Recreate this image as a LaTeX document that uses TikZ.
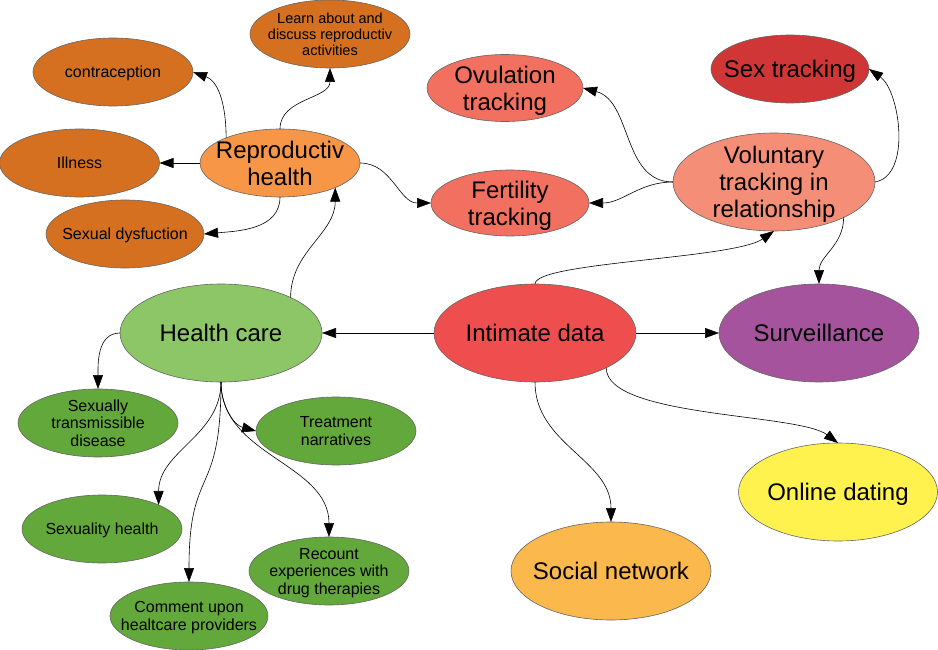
\documentclass[tikz,border=0pt]{standalone}
\usepackage{fontspec}
\setmainfont{Liberation Sans}
\usetikzlibrary{shapes.geometric,arrows.meta}
\definecolor{cOrD}{HTML}{D4701F}
\definecolor{cRep}{HTML}{F79646}
\definecolor{cOvu}{HTML}{F2705F}
\definecolor{cSex}{HTML}{D03636}
\definecolor{cVol}{HTML}{F58E76}
\definecolor{cInt}{HTML}{EF4E4E}
\definecolor{cSur}{HTML}{A5539D}
\definecolor{cOnl}{HTML}{FFF24F}
\definecolor{cSoc}{HTML}{FBB84C}
\definecolor{cHea}{HTML}{8CC666}
\definecolor{cGrD}{HTML}{62A83A}
\newcommand\ctrtext[2]{\smash{\hbox to 0pt{\hss\lower#1\vbox to 0pt{\vss\hbox{\begin{tabular}{@{}c@{}}#2\end{tabular}}\vss}\hss}}}
\tikzset{
  bub/.style={ellipse, draw=black!60, line width=0.6pt, inner sep=0pt, outer sep=0pt},
  bigf/.style={font=\fontsize{24}{27}\selectfont},
  smf/.style={font=\fontsize{16}{17.5}\selectfont},
  tinyf/.style={font=\fontsize{14.5}{16.2}\selectfont},
  arr/.style={-{Triangle[length=14pt,width=10pt]}, line width=0.6pt},
}
\begin{document}
\begin{tikzpicture}[x=1pt,y=1pt]
\fill[white] (0,0) rectangle (938,-650);
\useasboundingbox (0,0) rectangle (938,-650);
% orange group
\node[bub, tinyf, fill=cOrD, minimum width=160pt, minimum height=68pt] (learn) at (330,-34) {\ctrtext{2pt}{Learn about and\\discuss reproductiv\\activities}};
\node[bub, smf, fill=cOrD, minimum width=160pt, minimum height=68pt] (contra) at (113,-72) {\ctrtext{2.2pt}{contraception}};
\node[bub, smf, fill=cOrD, minimum width=160pt, minimum height=68pt] (ill) at (79.5,-163) {\ctrtext{2.2pt}{Illness}};
\node[bub, bigf, fill=cRep, minimum width=160pt, minimum height=68pt] (repro) at (280,-163) {\ctrtext{3.2pt}{Reproductiv\\health}};
\node[bub, smf, fill=cOrD, minimum width=158pt, minimum height=68pt] (dysf) at (125,-234) {\ctrtext{2.2pt}{Sexual dysfuction}};
% tracking group
\node[bub, bigf, fill=cOvu, minimum width=156pt, minimum height=67pt] (ovul) at (505,-88) {\ctrtext{3.2pt}{Ovulation\\tracking}};
\node[bub, bigf, fill=cOvu, minimum width=158pt, minimum height=66pt] (fert) at (510,-203) {\ctrtext{3.2pt}{Fertility\\tracking}};
\node[bub, bigf, fill=cSex, minimum width=158pt, minimum height=68pt] (sex) at (790,-69) {\ctrtext{3.2pt}{Sex tracking}};
\node[bub, bigf, fill=cVol, minimum width=202pt, minimum height=98pt] (vol) at (774,-182) {\ctrtext{3.2pt}{Voluntary\\tracking in\\relationship}};
% middle row
\node[bub, bigf, fill=cHea, minimum width=202pt, minimum height=98pt] (hc) at (221,-333) {\ctrtext{3.2pt}{Health care}};
\node[bub, bigf, fill=cInt, minimum width=202pt, minimum height=98pt] (int) at (535,-333) {\ctrtext{3.2pt}{Intimate data}};
\node[bub, bigf, fill=cSur, minimum width=200pt, minimum height=98pt] (surv) at (819,-333) {\ctrtext{3.2pt}{Surveillance}};
% green group
\node[bub, smf, fill=cGrD, minimum width=160pt, minimum height=68pt] (std) at (98,-423) {\ctrtext{2.2pt}{Sexually\\transmissible\\disease}};
\node[bub, smf, fill=cGrD, minimum width=160pt, minimum height=68pt] (treat) at (336,-431) {\ctrtext{2.2pt}{Treatment\\narratives}};
\node[bub, smf, fill=cGrD, minimum width=160pt, minimum height=68pt] (sexh) at (102,-529) {\ctrtext{2.2pt}{Sexuality health}};
\node[bub, smf, fill=cGrD, minimum width=158pt, minimum height=68pt] (comm) at (189,-616) {\ctrtext{2.2pt}{Comment upon\\healtcare providers}};
\node[bub, smf, fill=cGrD, minimum width=160pt, minimum height=68pt] (recount) at (329,-571) {\ctrtext{2.2pt}{Recount\\experiences with\\drug therapies}};
% bottom right
\node[bub, bigf, fill=cOnl, minimum width=199pt, minimum height=98pt] (online) at (838,-492) {\ctrtext{3.2pt}{Online dating}};
\node[bub, bigf, fill=cSoc, minimum width=200pt, minimum height=98pt] (social) at (611,-571) {\ctrtext{3.2pt}{Social network}};
% connectors
\draw[arr] (repro.155) to[out=90,in=-20] (contra.east);
\draw[arr] (repro.north) to[out=90,in=-90] (learn.south);
\draw[arr] (repro.west) -- (ill.east);
\draw[arr] (repro.south) to[out=-90,in=5] (dysf.east);
\draw[arr] (repro.east) to[out=0,in=180] (fert.west);
\draw[arr] (hc.27) to[out=90,in=-90] (repro.-24);
\draw[arr] (int.west) -- (hc.east);
\draw[arr] (int.east) -- (surv.west);
\draw[arr] (int.north) .. controls +(0,22) and +(-40,-28) .. (vol.south);
\draw[arr] (vol.west) to[out=180,in=-15] (ovul.east);
\draw[arr] (vol.west) to[out=180,in=0] (fert.east);
\draw[arr] (vol.east) to[out=10,in=-35,looseness=0.85] (sex.east);
\draw[arr] (vol.-27) to[out=-90,in=90] (surv.north);
\draw[arr] (int.-26) .. controls +(0,-50) and +(-40,30) .. (online.north);
\draw[arr] (int.south) to[out=-90,in=90] (social.north);
\draw[arr] (hc.west) to[out=180,in=90] (std.north);
\draw[arr] (hc.south) to[out=-90,in=165] (treat.west);
\draw[arr] (hc.south) to[out=-90,in=90] (sexh.23);
\draw[arr] (hc.south) to[out=-90,in=90,looseness=1.5] (comm.north);
\draw[arr] (hc.south) to[out=-90,in=90] (recount.north);
\end{tikzpicture}
\end{document}
